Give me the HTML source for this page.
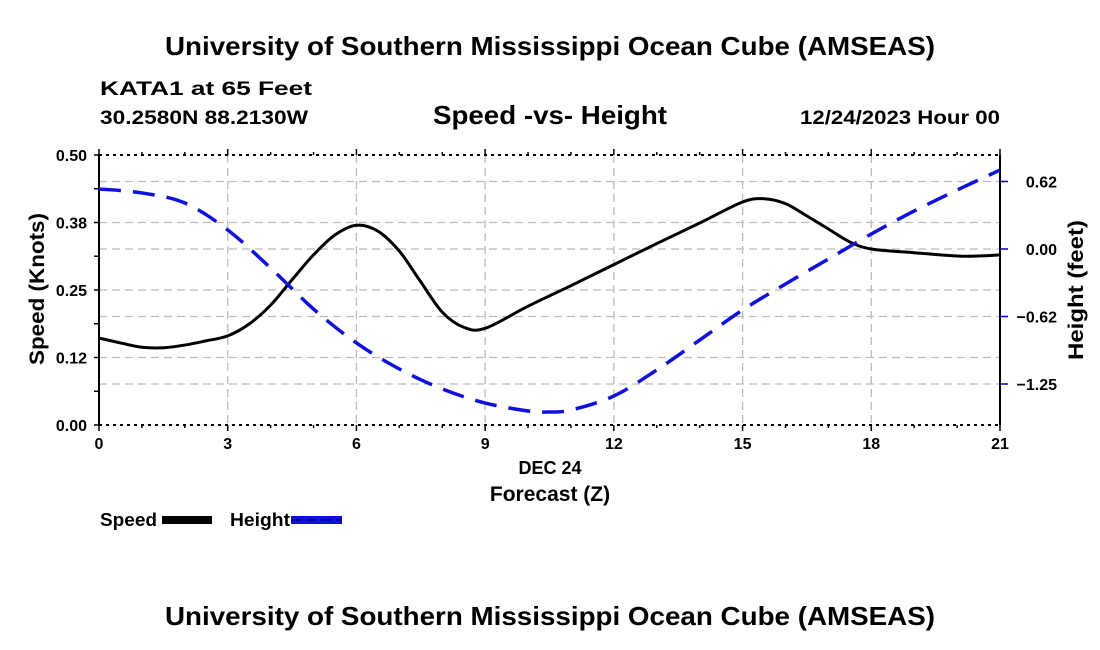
<!DOCTYPE html>
<html><head><meta charset="utf-8"><style>
body{margin:0;background:#fff;}
svg{display:block;font-family:"Liberation Sans",Arial,sans-serif;font-weight:bold;}
</style></head><body>
<svg id="chart" width="1100" height="650" viewBox="0 0 1100 650">
<text x="550" y="55" text-anchor="middle" font-size="26" textLength="770" lengthAdjust="spacingAndGlyphs">University of Southern Mississippi Ocean Cube (AMSEAS)</text>
<text x="100" y="95" font-size="19" textLength="212" lengthAdjust="spacingAndGlyphs">KATA1 at 65 Feet</text>
<text x="100" y="124" font-size="19" textLength="208" lengthAdjust="spacingAndGlyphs">30.2580N  88.2130W</text>
<text x="433" y="124" font-size="26" textLength="234" lengthAdjust="spacingAndGlyphs">Speed -vs- Height</text>
<text x="800" y="124" font-size="19" textLength="200" lengthAdjust="spacingAndGlyphs">12/24/2023 Hour 00</text>
<g id="grid"></g>
<g id="axes"></g>
<g id="series"></g>
<text x="550" y="474" text-anchor="middle" font-size="18">DEC 24</text>
<text x="550" y="501" text-anchor="middle" font-size="21">Forecast (Z)</text>
<text transform="translate(44,289) rotate(-90)" text-anchor="middle" font-size="21" textLength="152" lengthAdjust="spacingAndGlyphs">Speed (Knots)</text>
<text transform="translate(1083,290) rotate(-90)" text-anchor="middle" font-size="21" textLength="140" lengthAdjust="spacingAndGlyphs">Height (feet)</text>
<g>
<text x="100" y="526" font-size="18" textLength="57" lengthAdjust="spacingAndGlyphs">Speed</text>
<rect x="162" y="516" width="50" height="8" fill="#000"/>
</g>
<g>
<text x="230" y="526" font-size="18" textLength="60" lengthAdjust="spacingAndGlyphs">Height</text>
<rect x="291" y="516" width="51" height="8" fill="#1010dd"/>
<line x1="291" y1="520" x2="342" y2="520" stroke="#0000a0" stroke-width="2" stroke-dasharray="10,5"/>
</g>
<text x="550" y="625" text-anchor="middle" font-size="26" textLength="770" lengthAdjust="spacingAndGlyphs">University of Southern Mississippi Ocean Cube (AMSEAS)</text>
</svg>
<script>
const hours=[0,0.5,1,1.5,2,2.5,3,3.5,4,4.5,5,5.5,6,6.5,7,7.5,8,8.5,9,10,11,12,13,14,15,15.5,16,16.5,17,17.5,18,19,20,20.5,21];
const speed=[0.161,0.152,0.144,0.143,0.148,0.156,0.165,0.187,0.222,0.269,0.315,0.352,0.370,0.359,0.322,0.265,0.209,0.181,0.179,0.220,0.258,0.297,0.336,0.374,0.413,0.419,0.410,0.387,0.363,0.339,0.326,0.319,0.313,0.313,0.315];
const hHours=[0,1,2,3,4,5,6,7,8,9,10,10.5,11,12,13,14,15,16,17,18,19,20,21];
const height=[0.556,0.519,0.426,0.176,-0.176,-0.556,-0.87,-1.111,-1.296,-1.426,-1.5,-1.509,-1.491,-1.361,-1.12,-0.843,-0.565,-0.324,-0.093,0.139,0.352,0.546,0.731];
const xTicks=[0,3,6,9,12,15,18,21];
const leftTicks=[0,0.125,0.25,0.375,0.5];
const leftLabels=["0.00","0.12","0.25","0.38","0.50"];
const rightTicks=[0.625,0,-0.625,-1.25];
const rightLabels=["0.62","0.00","\u22120.62","\u22121.25"];

const L=99,R=1000,T=155,B=425;
const NS="http://www.w3.org/2000/svg";
const xS=h=>L+h/21*(R-L);
const yL=v=>B-v/0.5*(B-T);
const yR=f=>249-f*108;
function mk(tag,attrs,parent){const e=document.createElementNS(NS,tag);for(const k in attrs)e.setAttribute(k,attrs[k]);parent.appendChild(e);return e;}
const grid=document.getElementById('grid'),axes=document.getElementById('axes'),ser=document.getElementById('series');
const hg=[];
leftTicks.slice(1,4).forEach(v=>hg.push(yL(v)));
rightTicks.forEach(f=>hg.push(yR(f)));
hg.forEach(y=>{const g=mk('line',{x1:L,x2:R,y1:y,y2:y,stroke:'#bbb','stroke-width':1.3,'stroke-dasharray':'8,5'},grid);

});
xTicks.slice(1,7).forEach(h=>{const g=mk('line',{x1:xS(h),x2:xS(h),y1:T,y2:B,stroke:'#bbb','stroke-width':1.3,'stroke-dasharray':'8,5'},grid);

});
mk('line',{x1:L,x2:L,y1:T,y2:B,stroke:'#000','stroke-width':2},axes);
mk('line',{x1:R,x2:R,y1:T,y2:B,stroke:'#000','stroke-width':2},axes);
mk('line',{x1:L,x2:R,y1:T,y2:T,stroke:'#000','stroke-width':2,'stroke-dasharray':'3,4'},axes);
mk('line',{x1:L,x2:R,y1:B,y2:B,stroke:'#000','stroke-width':2,'stroke-dasharray':'3,4'},axes);
for(let v=0;v<=0.5001;v+=0.0625){mk('line',{x1:L-5,x2:L,y1:yL(v),y2:yL(v),stroke:'#000','stroke-width':1.5},axes);}
leftTicks.forEach((v,i)=>{const t=mk('text',{x:L-12,y:yL(v)+6,'text-anchor':'end','font-size':16},axes);t.textContent=leftLabels[i];

});
rightTicks.forEach((f,i)=>{mk('line',{x1:R,x2:R+8,y1:yR(f),y2:yR(f),stroke:'#0000a0','stroke-width':1.5},axes);
const t=mk('text',{x:R+57,y:yR(f)+6,'text-anchor':'end','font-size':16},axes);t.textContent=rightLabels[i];

});
for(let h=0;h<=21;h++){mk('line',{x1:xS(h),x2:xS(h),y1:B,y2:B+(h%3==0?6:3),stroke:'#000','stroke-width':1.5},axes);
mk('line',{x1:xS(h),x2:xS(h),y1:T-(h%3==0?6:3),y2:T,stroke:'#000','stroke-width':1.5},axes);}
xTicks.forEach(h=>{const t=mk('text',{x:xS(h),y:B+24,'text-anchor':'middle','font-size':16},axes);t.textContent=h;

});
function smooth(pts){let d='M'+pts[0][0]+','+pts[0][1];
for(let i=0;i<pts.length-1;i++){const p0=pts[Math.max(0,i-1)],p1=pts[i],p2=pts[i+1],p3=pts[Math.min(pts.length-1,i+2)];
const c1=[p1[0]+(p2[0]-p0[0])/6,p1[1]+(p2[1]-p0[1])/6],c2=[p2[0]-(p3[0]-p1[0])/6,p2[1]-(p3[1]-p1[1])/6];
d+=' C'+c1+' '+c2+' '+p2;}return d;}
const sp=mk('path',{d:smooth(hours.map((h,i)=>[xS(h),yL(speed[i])])),fill:'none',stroke:'#000','stroke-width':3},ser);


const hp=mk('path',{d:smooth(hHours.map((h,i)=>[xS(h),yR(height[i])])),fill:'none',stroke:'#1010dd','stroke-width':3.5,'stroke-dasharray':'22,12'},ser);


</script>
</body></html>
